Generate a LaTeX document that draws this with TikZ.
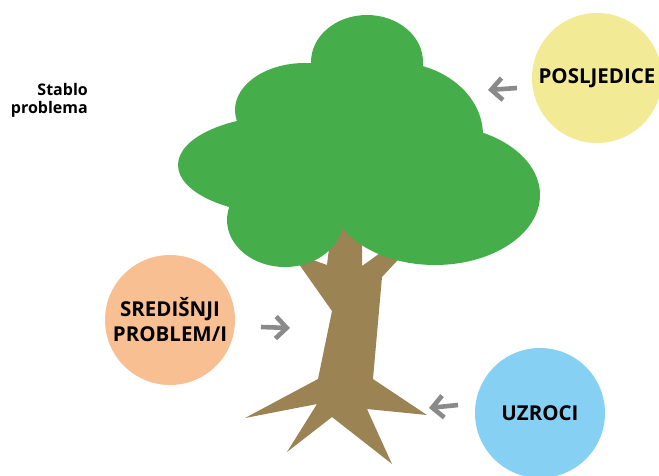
\documentclass[tikz,border=0pt]{standalone}
\usepackage{fontspec}
\setmainfont{Open Sans}
\usetikzlibrary{arrows.meta}
\definecolor{leaf}{RGB}{70,173,75}
\definecolor{bark}{RGB}{156,131,83}
\definecolor{cyellow}{RGB}{242,234,148}
\definecolor{cpeach}{RGB}{248,191,146}
\definecolor{cblue}{RGB}{133,208,243}
\definecolor{agray}{RGB}{138,138,138}
\tikzset{
  bubble/.style={circle, minimum size=130pt, inner sep=0pt, align=center,
    font=\bfseries\fontsize{20.5}{25}\selectfont, text=black},
  pointer/.style={draw=agray, line width=4.6pt,
    -{Straight Barb[length=11pt,width=22pt]}},
  leafblob/.style={fill=leaf, draw=none},
}
\begin{document}
\begin{tikzpicture}[x=1pt,y=-1pt]
\useasboundingbox (0,0) rectangle (659,475);
% trunk
\fill[bark] (330,215) -- (362,215) -- (362,266) -- (400,239) -- (410,247)
  -- (382,277) -- (373,379) -- (427,415) -- (367,409) -- (392,464)
  -- (332,417) -- (287,452) -- (317,404) -- (245,418) -- (318,379)
  -- (332,311) -- (289,250) -- (296,254) -- (327,265) -- (330,240) -- cycle;
% canopy
\fill[leafblob] (367,62) ellipse [x radius=56, y radius=47];
\fill[leafblob] (305,110) ellipse [x radius=70, y radius=47];
\fill[leafblob] (393,135) ellipse [x radius=90, y radius=73];
\fill[leafblob] (290,165) ellipse [x radius=112, y radius=50];
\fill[leafblob] (285,220) ellipse [x radius=58, y radius=47];
\fill[leafblob] (435,195) ellipse [x radius=105, y radius=70];
\fill[leafblob] (360,160) ellipse [x radius=80, y radius=60];
% bubbles
\node[bubble, fill=cyellow] (posl) at (597,78) {POSLJEDICE};
\node[bubble, fill=cpeach] (sred) at (170,320) {SREDIŠNJI\\PROBLEM/I};
\node[bubble, fill=cblue] (uzr) at (540,413) {UZROCI};
% title
\node[anchor=east, align=right, inner sep=0pt,
  font=\bfseries\fontsize{16}{18}\selectfont] (title) at (88,100) {Stablo\\problema};
% arrows
\coordinate (a1s) at (517,88);  \coordinate (a1e) at (488,90);
\coordinate (a2s) at (261,327); \coordinate (a2e) at (290,328);
\coordinate (a3s) at (458,405); \coordinate (a3e) at (429,408);
\draw[pointer] (a1s) -- (a1e);
\draw[pointer] (a2s) -- (a2e);
\draw[pointer] (a3s) -- (a3e);
\end{tikzpicture}
\end{document}
